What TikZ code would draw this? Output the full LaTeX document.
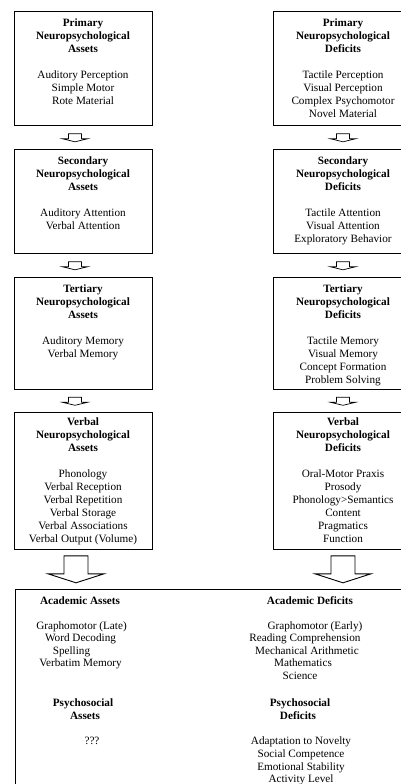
\documentclass[tikz,border=0pt]{standalone}
\usepackage{fontspec}
\setmainfont{Liberation Serif}
\usetikzlibrary{calc}
\begin{document}
\begin{tikzpicture}[x=1pt,y=1pt,
  box/.style={draw,line width=0.8pt,inner sep=0pt,anchor=north},
  lbox/.style={box,minimum width=138pt},
  rbox/.style={box,minimum width=140pt},
  txt/.style={align=center,anchor=north,inner sep=0pt,font=\fontsize{11.2}{13}\selectfont},
  lbl/.style={anchor=base,inner sep=0pt,font=\fontsize{11.2}{13}\selectfont},
  sarrow/.pic={\draw[line width=0.7pt,line join=miter] (-6.5,0) -- (6.5,0) -- (6.5,-5) -- (12.5,-5) -- (0,-8) -- (-12.5,-5) -- (-6.5,-5) -- cycle;},
  barrow/.pic={\draw[line width=0.9pt,line join=miter] (-12,0) -- (12,0) -- (12,-18) -- (28,-18) -- (0,-27) -- (-28,-18) -- (-12,-18) -- cycle;}
]
\useasboundingbox (0,0) rectangle (401,-784);
\clip (0,0) rectangle (401,-784);

% left column boxes
\node[lbox,minimum height=114pt] (L1) at (83,-11) {};
\node[lbox,minimum height=104pt] (L2) at (83,-149) {};
\node[lbox,minimum height=112pt] (L3) at (83,-277) {};
\node[lbox,minimum height=137pt] (L4) at (83,-412) {};
% right column boxes
\node[rbox,minimum height=114pt] (R1) at (343,-11) {};
\node[rbox,minimum height=104pt] (R2) at (343,-149) {};
\node[rbox,minimum height=112pt] (R3) at (343,-277) {};
\node[rbox,minimum height=137pt] (R4) at (343,-412) {};
% bottom box
\node[box,minimum width=405pt,minimum height=211pt] (B) at (217.5,-589) {};

% box texts
\node[txt] (L1t) at ($(L1.north)+(0,-6)$) {\strut\textbf{Primary}\\ \textbf{Neuropsychological}\\ \textbf{Assets}\\[13pt] Auditory Perception\\ Simple Motor\\ Rote Material};
\node[txt] (L2t) at ($(L2.north)+(0,-6)$) {\strut\textbf{Secondary}\\ \textbf{Neuropsychological}\\ \textbf{Assets}\\[13pt] Auditory Attention\\ Verbal Attention};
\node[txt] (L3t) at ($(L3.north)+(0,-6)$) {\strut\textbf{Tertiary}\\ \textbf{Neuropsychological}\\ \textbf{Assets}\\[13pt] Auditory Memory\\ Verbal Memory};
\node[txt] (L4t) at ($(L4.north)+(0,-4)$) {\strut\textbf{Verbal}\\ \textbf{Neuropsychological}\\ \textbf{Assets}\\[13pt] Phonology\\ Verbal Reception\\ Verbal Repetition\\ Verbal Storage\\ Verbal Associations\\ Verbal Output (Volume)};

\node[txt] (R1t) at ($(R1.north)+(0,-6)$) {\strut\textbf{Primary}\\ \textbf{Neuropsychological}\\ \textbf{Deficits}\\[13pt] Tactile Perception\\ Visual Perception\\ Complex Psychomotor\\ Novel Material};
\node[txt] (R2t) at ($(R2.north)+(0,-6)$) {\strut\textbf{Secondary}\\ \textbf{Neuropsychological}\\ \textbf{Deficits}\\[13pt] Tactile Attention\\ Visual Attention\\ Exploratory Behavior};
\node[txt] (R3t) at ($(R3.north)+(0,-6)$) {\strut\textbf{Tertiary}\\ \textbf{Neuropsychological}\\ \textbf{Deficits}\\[13pt] Tactile Memory\\ Visual Memory\\ Concept Formation\\ Problem Solving};
\node[txt] (R4t) at ($(R4.north)+(0,-4)$) {\strut\textbf{Verbal}\\ \textbf{Neuropsychological}\\ \textbf{Deficits}\\[13pt] Oral-Motor Praxis\\ Prosody\\ Phonology>Semantics\\ Content\\ Pragmatics\\ Function};

% small arrows
\pic at ($(L1.south)+(-8,-8)$) {sarrow};
\pic at ($(L2.south)+(-8,-8)$) {sarrow};
\pic at ($(L3.south)+(-8,-7.5)$) {sarrow};
\pic at ($(R1.south)+(0,-8)$) {sarrow};
\pic at ($(R2.south)+(0,-8)$) {sarrow};
\pic at ($(R3.south)+(0,-7.5)$) {sarrow};
% big arrows
\pic at ($(L4.south)+(-7,-6)$) {barrow};
\pic at ($(R4.south)+(0,-6)$) {barrow};

% bottom box texts, left
\node[lbl] (aa) at (80,-604) {\textbf{Academic Assets}};
\node[lbl] (a1) at (81.5,-629) {Graphomotor (Late)};
\node[lbl] (a2) at (80.5,-641.5) {Word Decoding};
\node[lbl] (a3) at (71.5,-654) {Spelling};
\node[lbl] (a4) at (80.5,-666.5) {Verbatim Memory};
\node[lbl] (pa1) at (83,-706) {\textbf{Psychosocial}};
\node[lbl] (pa2) at (85,-719) {\textbf{Assets}};
\node[lbl] (pa3) at (92,-744) {???};
% bottom box texts, right
\node[lbl] (ad) at (310,-604) {\textbf{Academic Deficits}};
\node[lbl] (d1) at (315,-629) {Graphomotor (Early)};
\node[lbl] (d2) at (305,-641.5) {Reading Comprehension};
\node[lbl] (d3) at (307,-654) {Mechanical Arithmetic};
\node[lbl] (d4) at (303,-666.5) {Mathematics};
\node[lbl] (d5) at (300,-679) {Science};
\node[lbl] (pd1) at (300,-706) {\textbf{Psychosocial}};
\node[lbl] (pd2) at (298,-719) {\textbf{Deficits}};
\node[lbl] (pd3) at (301,-744) {Adaptation to Novelty};
\node[lbl] (pd4) at (301,-757) {Social Competence};
\node[lbl] (pd5) at (301,-770) {Emotional Stability};
\node[lbl] (pd6) at (301,-782) {Activity Level};
\end{tikzpicture}
\end{document}
